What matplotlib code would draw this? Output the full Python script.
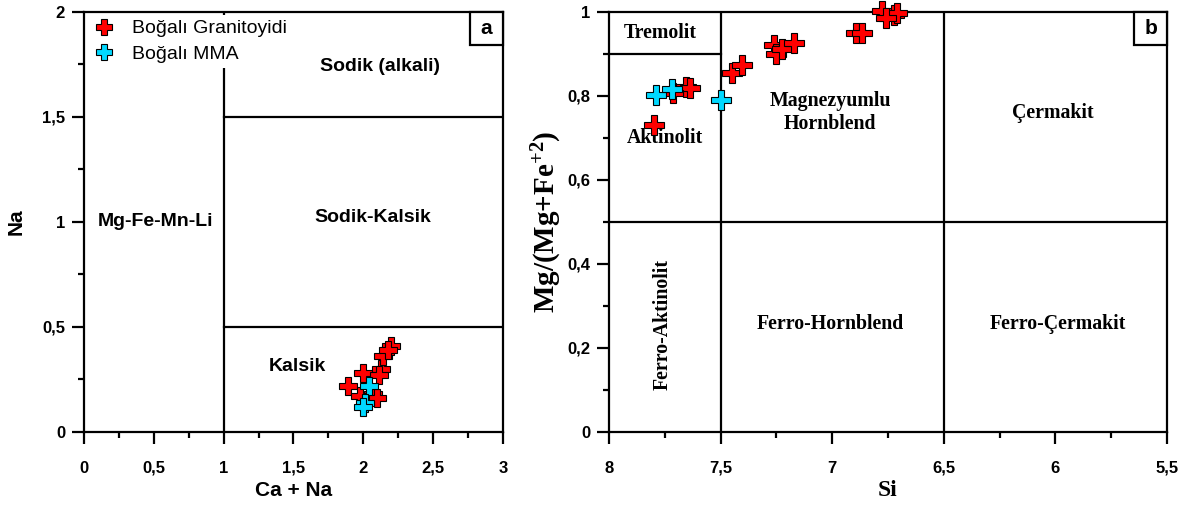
import matplotlib
matplotlib.use("Agg")
import matplotlib.pyplot as plt
from matplotlib.ticker import MultipleLocator, FuncFormatter
from matplotlib.patches import Rectangle

plt.rcParams['mathtext.fontset'] = 'custom'
plt.rcParams['mathtext.rm'] = 'Liberation Serif:bold'
plt.rcParams['mathtext.bf'] = 'Liberation Serif:bold'
plt.rcParams['mathtext.it'] = 'Liberation Serif:bold'

# ---- data: panel a (Ca+Na vs Na)
gran_a_x = [1.89, 2.00, 2.13, 2.14, 2.20, 2.18, 2.11, 2.07, 2.10, 1.98]
gran_a_y = [0.22, 0.28, 0.30, 0.36, 0.41, 0.39, 0.27, 0.18, 0.16, 0.17]
mma_a_x = [2.04, 2.01, 2.00]
mma_a_y = [0.22, 0.14, 0.12]

# ---- data: panel b (Si vs Mg/(Mg+Fe2+))
gran_b_si = [7.80, 7.656, 7.636, 7.715, 7.447, 7.402, 7.26, 7.253, 7.223, 7.171,
             6.895, 6.865, 6.776, 6.724, 6.709, 6.76]
gran_b_mg = [0.731, 0.821, 0.818, 0.806, 0.854, 0.874, 0.921, 0.901, 0.913, 0.925,
             0.949, 0.951, 1.003, 0.993, 0.998, 0.985]
mma_b_si = [7.79, 7.72, 7.50]
mma_b_mg = [0.802, 0.816, 0.790]

labels = ["Boğalı Granitoyidi", "Boğalı MMA"]
RED = "#FF0000"
CYAN = "#00D8FF"

fig = plt.figure(figsize=(11.89, 5.05), dpi=100)
axa = fig.add_axes([0.0706, 0.1446, 0.3524, 0.8317])
axb = fig.add_axes([0.5122, 0.1446, 0.4693, 0.8317])

def comma_fmt(v, pos):
    s = f"{v:.10g}"
    return s.replace('.', ',')

SANS = "Liberation Sans"
SERIF = "Liberation Serif"

for ax in (axa, axb):
    for sp in ax.spines.values():
        sp.set_linewidth(1.6)
        sp.set_zorder(5)
    ax.tick_params(which='major', direction='out', length=8.6, width=1.6,
                   labelsize=12, top=False, right=False)
    ax.tick_params(which='minor', direction='out', length=4.5, width=1.6,
                   top=False, right=False)
    ax.tick_params(axis='x', which='major', pad=12)
    ax.tick_params(axis='y', which='major', pad=5)
    ax.xaxis.set_major_formatter(FuncFormatter(comma_fmt))
    ax.yaxis.set_major_formatter(FuncFormatter(comma_fmt))
    for lab in ax.get_xticklabels() + ax.get_yticklabels():
        lab.set_fontfamily(SANS)
        lab.set_fontweight('bold')

lw = 1.6

def corner_box(ax, letter, w, h):
    ax.add_patch(Rectangle((1 - w, 1 - h), w, h, transform=ax.transAxes,
                           facecolor='white', edgecolor='black', linewidth=1.6,
                           zorder=7, clip_on=False))
    ax.text(1 - w / 2, 1 - h / 2, letter, transform=ax.transAxes, fontfamily=SANS,
            fontweight='bold', fontsize=15, ha='center', va='center', zorder=8)

# ---------- Panel a ----------
axa.set_xlim(0, 3)
axa.set_ylim(0, 2)
axa.xaxis.set_major_locator(MultipleLocator(0.5))
axa.xaxis.set_minor_locator(MultipleLocator(0.25))
axa.yaxis.set_major_locator(MultipleLocator(0.5))
axa.yaxis.set_minor_locator(MultipleLocator(0.25))
axa.plot([1, 1], [0, 2], color='black', lw=lw, zorder=1)
axa.plot([1, 3], [1.5, 1.5], color='black', lw=lw, zorder=1)
axa.plot([1, 3], [0.5, 0.5], color='black', lw=lw, zorder=1)

axa.plot(gran_a_x, gran_a_y, linestyle='none', marker='P', markersize=12.5,
         markerfacecolor=RED, markeredgecolor='black', markeredgewidth=0.8,
         label=labels[0], zorder=3)
axa.plot(mma_a_x, mma_a_y, linestyle='none', marker='P', markersize=12.5,
         markerfacecolor=CYAN, markeredgecolor='black', markeredgewidth=0.8,
         label=labels[1], zorder=4)

leg = axa.legend(loc='upper left', bbox_to_anchor=(0.0, 1.0), frameon=True,
                 fancybox=False, edgecolor='none', facecolor='white', framealpha=1,
                 prop={'family': SANS, 'size': 14}, handletextpad=0.75,
                 borderpad=0.25, labelspacing=0.4, markerscale=0.9,
                 handlelength=1.3, borderaxespad=0.15)
leg.set_zorder(6)

tk = dict(fontfamily=SANS, fontweight='bold', fontsize=14, ha='center', va='center')
axa.text(2.12, 1.74, "Sodik (alkali)", **tk)
axa.text(2.07, 1.02, "Sodik-Kalsik", **tk)
axa.text(0.515, 1.00, "Mg-Fe-Mn-Li", **tk)
axa.text(1.53, 0.31, "Kalsik", **tk)
corner_box(axa, "a", 0.0788, 0.0786)

axa.set_xlabel("Ca + Na", fontfamily=SANS, fontweight='bold', fontsize=15, labelpad=4)
axa.set_ylabel("Na", fontfamily=SANS, fontweight='bold', fontsize=15, labelpad=12)

# ---------- Panel b ----------
axb.set_xlim(8, 5.5)
axb.set_ylim(0, 1)
axb.xaxis.set_major_locator(MultipleLocator(0.5))
axb.xaxis.set_minor_locator(MultipleLocator(0.25))
axb.yaxis.set_major_locator(MultipleLocator(0.2))
axb.yaxis.set_minor_locator(MultipleLocator(0.1))
axb.plot([7.5, 7.5], [0, 1], color='black', lw=lw, zorder=1)
axb.plot([6.5, 6.5], [0, 1], color='black', lw=lw, zorder=1)
axb.plot([8, 5.5], [0.5, 0.5], color='black', lw=lw, zorder=1)
axb.plot([8, 7.5], [0.9, 0.9], color='black', lw=lw, zorder=1)

axb.plot(gran_b_si, gran_b_mg, linestyle='none', marker='P', markersize=15,
         markerfacecolor=RED, markeredgecolor='black', markeredgewidth=0.8,
         zorder=6, clip_on=False)
axb.plot(mma_b_si, mma_b_mg, linestyle='none', marker='P', markersize=15,
         markerfacecolor=CYAN, markeredgecolor='black', markeredgewidth=0.8,
         zorder=6, clip_on=False)

ts = dict(fontfamily=SERIF, fontweight='bold', fontsize=14.3, ha='center', va='center')
axb.text(7.77, 0.95, "Tremolit", **ts)
axb.text(7.75, 0.70, "Aktinolit", **ts)
axb.text(7.01, 0.76, "Magnezyumlu\nHornblend", linespacing=1.2, **ts)
axb.text(6.01, 0.76, "Çermakit", **ts)
axb.text(7.76, 0.255, "Ferro-Aktinolit", rotation=90, **ts)
axb.text(7.01, 0.257, "Ferro-Hornblend", **ts)
axb.text(5.99, 0.257, "Ferro-Çermakit", **ts)
corner_box(axb, "b", 0.059, 0.0786)

axb.set_xlabel("Si", fontfamily=SERIF, fontweight='bold', fontsize=17, labelpad=3)
axb.set_ylabel("Mg/(Mg+Fe$^{+2}$)", fontfamily=SERIF, fontweight='bold', fontsize=21, labelpad=2)

fig.savefig("out.png", dpi=100)
